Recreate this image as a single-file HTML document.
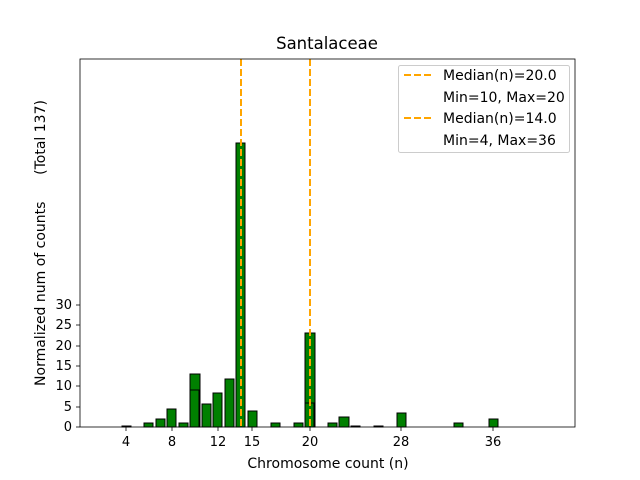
<!DOCTYPE html>
<html><head><style>body{margin:0;background:#fff}svg{display:block}text{font-family:"DejaVu Sans","Liberation Sans",sans-serif;fill:#000}</style></head>
<body>
<svg width="640" height="480" xmlns="http://www.w3.org/2000/svg">
<rect width="640" height="480" fill="#fff"/>
<g fill="#008000" stroke="#000" stroke-width="1">
<rect x="122" y="426" width="9" height="1"/>
<rect x="144" y="423" width="9" height="4"/>
<rect x="156" y="419" width="9" height="8"/>
<rect x="167" y="409" width="9" height="18"/>
<rect x="179" y="423" width="9" height="4"/>
<rect x="190" y="374" width="10" height="53"/>
<rect x="202" y="404" width="9" height="23"/>
<rect x="213" y="393" width="9" height="34"/>
<rect x="225" y="379" width="9" height="48"/>
<rect x="236" y="143" width="9" height="284"/>
<rect x="248" y="411" width="9" height="16"/>
<rect x="271" y="423" width="9" height="4"/>
<rect x="294" y="423" width="9" height="4"/>
<rect x="305" y="333" width="10" height="94"/>
<rect x="328" y="423" width="9" height="4"/>
<rect x="339" y="417" width="10" height="10"/>
<rect x="351" y="426" width="9" height="1"/>
<rect x="374" y="426" width="9" height="1"/>
<rect x="397" y="413" width="9" height="14"/>
<rect x="454" y="423" width="9" height="4"/>
<rect x="489" y="419" width="9" height="8"/>
<rect x="190" y="390" width="9" height="37"/>
<rect x="305" y="403" width="9" height="24"/>
</g>
<g stroke="#ffa500" stroke-width="2" stroke-dasharray="7,3">
<line x1="241" y1="59" x2="241" y2="427"/>
<line x1="310" y1="59" x2="310" y2="427"/>
</g>
<rect x="80" y="59" width="495" height="368" fill="none" stroke="#000" stroke-width="0.8"/>
<g stroke="#000" stroke-width="0.8">
<line x1="126" y1="427" x2="126" y2="431"/><line x1="172" y1="427" x2="172" y2="431"/>
<line x1="218" y1="427" x2="218" y2="431"/><line x1="252" y1="427" x2="252" y2="431"/>
<line x1="310" y1="427" x2="310" y2="431"/><line x1="401" y1="427" x2="401" y2="431"/>
<line x1="493" y1="427" x2="493" y2="431"/>
<line x1="76" y1="427" x2="80" y2="427"/><line x1="76" y1="407" x2="80" y2="407"/>
<line x1="76" y1="386" x2="80" y2="386"/><line x1="76" y1="366" x2="80" y2="366"/>
<line x1="76" y1="346" x2="80" y2="346"/><line x1="76" y1="325" x2="80" y2="325"/>
<line x1="76" y1="305" x2="80" y2="305"/>
</g>
<g font-size="13" text-anchor="middle">
<text x="126" y="446">4</text><text x="172" y="446">8</text><text x="218" y="446">12</text>
<text x="252" y="446">15</text><text x="310" y="446">20</text><text x="401" y="446">28</text>
<text x="493" y="446">36</text>
</g>
<g font-size="13" text-anchor="end">
<text x="72" y="431">0</text><text x="72" y="411">5</text><text x="72" y="390">10</text>
<text x="72" y="370">15</text><text x="72" y="350">20</text><text x="72" y="329">25</text>
<text x="72" y="309">30</text>
</g>
<text x="328" y="468" font-size="14" text-anchor="middle">Chromosome count (n)</text>
<text x="327" y="49" font-size="16.5" text-anchor="middle">Santalaceae</text>
<text transform="translate(45,243) rotate(-90)" font-size="14" text-anchor="middle" xml:space="preserve">Normalized num of counts      (Total 137)</text>
<rect x="398.5" y="65.5" width="171" height="87" rx="2" fill="#fff" fill-opacity="0.8" stroke="#ccc"/>
<g stroke="#ffa500" stroke-width="2" stroke-dasharray="7,3">
<line x1="404" y1="75" x2="432" y2="75"/><line x1="404" y1="118" x2="432" y2="118"/>
</g>
<g font-size="14">
<text x="443" y="80">Median(n)=20.0</text><text x="443" y="102">Min=10, Max=20</text>
<text x="443" y="123">Median(n)=14.0</text><text x="443" y="145">Min=4, Max=36</text>
</g>
</svg>
</body></html>
